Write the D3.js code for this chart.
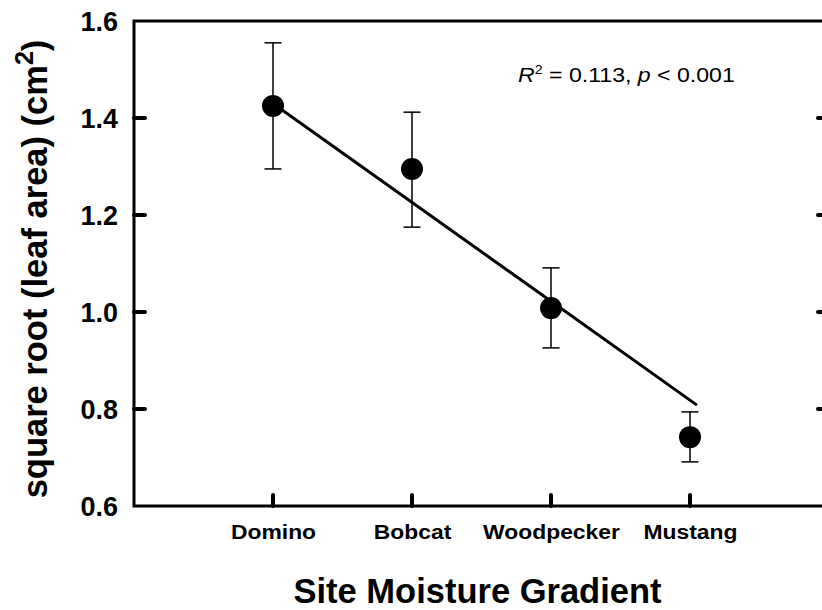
<!DOCTYPE html>
<html>
<head>
<meta charset="utf-8">
<script src="https://cdn.jsdelivr.net/npm/d3@7"></script>
<style>
  html, body { margin: 0; padding: 0; background: #fff; }
  svg { display: block; }
  text { font-family: "Liberation Sans", Arial, sans-serif; fill: #000; }
</style>
</head>
<body>
<svg id="chart" width="822" height="610"></svg>
<script>
// ---- data ----
const categories = ["Domino", "Bobcat", "Woodpecker", "Mustang"];
const catPos = [1, 2, 3, 4];
const means = [1.425, 1.295, 1.008, 0.742];
const upper = [1.555, 1.412, 1.091, 0.794];
const lower = [1.295, 1.175, 0.926, 0.691];
const fitX = [1, 4.05];
const fitY = [1.43, 0.808];
const yTicks = [0.6, 0.8, 1.0, 1.2, 1.4, 1.6];
const yInnerTicks = [0.8, 1.0, 1.2, 1.4];

(function () {
const svg = d3.select("#chart");
const mL = 134, mR = 829, mT = 21, mB = 506;
const x = d3.scaleLinear().domain([0, 5]).range([mL, mR]);
const y = d3.scaleLinear().domain([0.6, 1.6]).range([mB, mT]);

// frame
svg.append("rect")
  .attr("x", mL).attr("y", mT)
  .attr("width", mR - mL).attr("height", mB - mT)
  .attr("fill", "none").attr("stroke", "#000").attr("stroke-width", 3);

// y axis labels (left)
const yAxis = d3.axisLeft(y).tickValues(yTicks).tickSize(0).tickPadding(16)
  .tickFormat(d3.format(".1f"));
const gy = svg.append("g").attr("transform", `translate(${mL},0)`).call(yAxis);
gy.select(".domain").remove();
gy.selectAll("text")
  .style("font-size", "27px").style("font-weight", "bold")
  .attr("dy", "0.36em");

// inner ticks left and right
svg.append("g").selectAll("line").data(yInnerTicks).join("line")
  .attr("x1", mL).attr("x2", mL + 11)
  .attr("y1", d => y(d)).attr("y2", d => y(d))
  .attr("stroke", "#000").attr("stroke-width", 4).attr("stroke-linecap", "round");
svg.append("g").selectAll("line").data(yInnerTicks).join("line")
  .attr("x1", mR).attr("x2", mR - 11)
  .attr("y1", d => y(d)).attr("y2", d => y(d))
  .attr("stroke", "#000").attr("stroke-width", 4).attr("stroke-linecap", "round");

// x axis ticks and labels
const xAxis = d3.axisBottom(x).tickValues(catPos).tickSize(0).tickPadding(18)
  .tickFormat((d, i) => categories[i]);
const gx = svg.append("g").attr("transform", `translate(0,${mB})`).call(xAxis);
gx.select(".domain").remove();
gx.selectAll("text")
  .style("font-size", "21px").style("font-weight", "bold")
  .attr("transform", "scale(1.09,1)");
svg.append("g").selectAll("line").data(catPos).join("line")
  .attr("x1", d => x(d)).attr("x2", d => x(d))
  .attr("y1", mB).attr("y2", mB - 11)
  .attr("stroke", "#000").attr("stroke-width", 4).attr("stroke-linecap", "round");

// regression line
svg.append("line")
  .attr("x1", x(fitX[0])).attr("y1", y(fitY[0]))
  .attr("x2", x(fitX[1])).attr("y2", y(fitY[1]))
  .attr("stroke", "#000").attr("stroke-width", 3);

// error bars
const eb = svg.append("g");
catPos.forEach((c, i) => {
  eb.append("line")
    .attr("x1", x(c)).attr("x2", x(c))
    .attr("y1", y(upper[i])).attr("y2", y(lower[i]))
    .attr("stroke", "#000").attr("stroke-width", 1.5);
  [upper[i], lower[i]].forEach(v => {
    eb.append("line")
      .attr("x1", x(c) - 8.5).attr("x2", x(c) + 8.5)
      .attr("y1", y(v)).attr("y2", y(v))
      .attr("stroke", "#000").attr("stroke-width", 1.5);
  });
});

// points
svg.append("g").selectAll("circle").data(means).join("circle")
  .attr("cx", (d, i) => x(catPos[i])).attr("cy", d => y(d))
  .attr("r", 11).attr("fill", "#000");

// annotation
const ann = svg.append("text")
  .attr("transform", "translate(518,82) scale(1.1,1)")
  .style("font-size", "21px");
ann.append("tspan").style("font-style", "italic").text("R");
ann.append("tspan").attr("dy", -8).style("font-size", "13px").text("2");
ann.append("tspan").attr("dy", 8).text(" = 0.113, ");
ann.append("tspan").style("font-style", "italic").text("p");
ann.append("tspan").text(" < 0.001");

// x title
svg.append("text")
  .attr("x", (mL + mR) / 2 - 4).attr("y", 603)
  .attr("text-anchor", "middle")
  .style("font-size", "34.5px").style("font-weight", "bold")
  .text("Site Moisture Gradient");

// y title
const yt = svg.append("text")
  .attr("transform", `translate(47,${(40 + 498) / 2}) rotate(-90)`)
  .attr("text-anchor", "middle")
  .style("font-size", "34.5px").style("font-weight", "bold");
yt.append("tspan").text("square root (leaf area) (cm");
yt.append("tspan").attr("dy", -14).style("font-size", "25px").text("2");
yt.append("tspan").attr("dy", 14).text(")");
})();
</script>
</body>
</html>
